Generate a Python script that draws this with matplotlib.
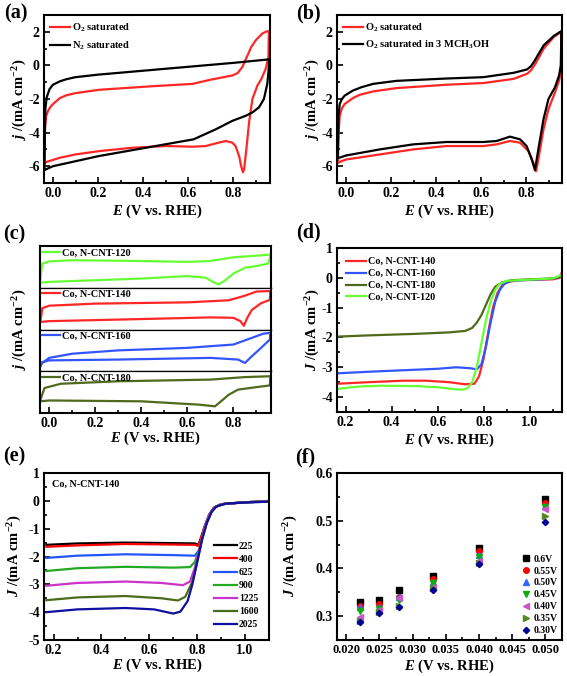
import matplotlib
matplotlib.use("Agg")
import matplotlib.pyplot as plt
from matplotlib.ticker import MultipleLocator, FormatStrFormatter

plt.rcParams['font.family'] = 'Liberation Serif'
plt.rcParams['font.weight'] = 'bold'
plt.rcParams['axes.labelweight'] = 'bold'
plt.rcParams['mathtext.fontset'] = 'custom'
plt.rcParams['mathtext.rm'] = 'Liberation Serif:bold'
plt.rcParams['mathtext.it'] = 'Liberation Serif:italic:bold'
plt.rcParams['mathtext.bf'] = 'Liberation Serif:bold'
plt.rcParams['axes.unicode_minus'] = False
plt.rcParams['axes.linewidth'] = 1.5

# ---------------- data ----------------
# (a) CV in O2 / N2
a_e_o2 = [-0.038, -0.037, -0.035, -0.03, -0.022, -0.01, 0.0, 0.03, 0.059, 0.1, 0.206, 0.428, 0.619,
          0.7, 0.796, 0.82, 0.84, 0.86, 0.88, 0.9, 0.929, 0.951, 0.958, 0.956, 0.944, 0.925, 0.907,
          0.885, 0.87, 0.858, 0.848, 0.843, 0.835, 0.826, 0.81, 0.796, 0.767, 0.723, 0.678, 0.619,
          0.501, 0.354, 0.206, 0.1, 0.03, -0.03, -0.038]
a_j_o2 = [-5.8, -4.6, -3.6, -3.0, -2.7, -2.45, -2.3, -1.95, -1.78, -1.65, -1.45, -1.25, -1.1,
          -0.85, -0.6, -0.45, -0.1, 0.5, 1.1, 1.5, 1.9, 2.04, 2.0, 0.5, -0.2, -0.8, -1.2,
          -2.0, -3.4, -5.0, -6.2, -6.36, -6.0, -5.4, -4.8, -4.6, -4.5, -4.64, -4.8, -4.84,
          -4.8, -4.9, -5.1, -5.3, -5.5, -5.75, -5.8]
a_e_n2 = [-0.038, -0.036, -0.034, -0.028, -0.015, 0.0, 0.03, 0.06, 0.1, 0.2, 0.5, 0.8, 0.96, 0.956,
          0.951, 0.936, 0.914, 0.885, 0.855, 0.796, 0.723, 0.624, 0.413, 0.202, 0.0, -0.034, -0.038]
a_j_n2 = [-6.2, -4.0, -2.6, -1.9, -1.4, -1.15, -0.95, -0.82, -0.7, -0.55, -0.2, 0.15, 0.36, -0.4,
          -1.1, -2.0, -2.5, -2.8, -3.0, -3.3, -3.8, -4.4, -4.9, -5.4, -6.0, -6.2, -6.2]

# (b) CV in O2 with / without methanol
b_e_o2 = [-0.036, -0.035, -0.033, -0.028, -0.018, -0.006, 0.03, 0.061, 0.12, 0.224, 0.447, 0.61,
          0.744, 0.803, 0.82, 0.84, 0.877, 0.922, 0.955, 0.953, 0.945, 0.927, 0.898, 0.876, 0.853,
          0.843, 0.831, 0.809, 0.772, 0.727, 0.668, 0.609, 0.446, 0.298, 0.15, 0.001, -0.031, -0.036]
b_j_o2 = [-5.8, -4.8, -4.0, -3.0, -2.55, -2.3, -1.95, -1.75, -1.55, -1.35, -1.15, -1.05,
          -0.8, -0.5, -0.3, 0.1, 1.0, 1.7, 2.0, -0.4, -0.9, -1.6, -2.6, -3.8, -5.6,
          -6.3, -5.8, -5.1, -4.6, -4.5, -4.7, -4.8, -4.8, -5.0, -5.3, -5.6, -5.76, -5.8]
b_e_meoh = [-0.036, -0.035, -0.033, -0.028, -0.018, -0.006, 0.03, 0.068, 0.12, 0.224, 0.447, 0.61,
            0.744, 0.803, 0.82, 0.833, 0.877, 0.922, 0.955, 0.953, 0.945, 0.927, 0.898, 0.876, 0.853,
            0.838, 0.824, 0.801, 0.772, 0.727, 0.668, 0.609, 0.446, 0.298, 0.15, 0.001, -0.031, -0.036]
b_j_meoh = [-5.5, -4.5, -3.0, -2.3, -2.0, -1.8, -1.5, -1.3, -1.1, -0.92, -0.78, -0.7,
            -0.44, -0.24, -0.05, 0.2, 1.2, 1.76, 2.04, 0.0, -0.6, -1.3, -2.0, -3.2, -5.0,
            -6.24, -5.6, -4.8, -4.4, -4.24, -4.5, -4.56, -4.56, -4.7, -5.0, -5.36, -5.5, -5.5]

# (c) stacked CVs, arbitrary offset units (0 = bottom of strip, 1 = top)
c_labels = ['Co, N-CNT-120', 'Co, N-CNT-140', 'Co, N-CNT-160', 'Co, N-CNT-180']
c_e_120 = [-0.04, -0.035, -0.03, 0.0, 0.1, 0.4, 0.6, 0.7, 0.8, 0.88, 0.95, 0.96, 0.958, 0.95, 0.9,
           0.85, 0.8, 0.76, 0.735, 0.71, 0.68, 0.6, 0.4, 0.2, 0.0, -0.04, -0.04]
c_j_120 = [0.12, 0.38, 0.58, 0.63, 0.66, 0.64, 0.62, 0.64, 0.73, 0.76, 0.79, 0.8, 0.70, 0.58, 0.52,
           0.48, 0.34, 0.16, 0.08, 0.14, 0.24, 0.28, 0.22, 0.18, 0.14, 0.12, 0.12]
c_e_140 = [-0.04, -0.035, -0.03, 0.0, 0.2, 0.6, 0.78, 0.85, 0.9, 0.96, 0.958, 0.92, 0.88, 0.86,
           0.845, 0.83, 0.8, 0.7, 0.4, 0.0, -0.04, -0.04]
c_j_140 = [0.18, 0.31, 0.51, 0.57, 0.62, 0.65, 0.70, 0.81, 0.91, 0.92, 0.71, 0.63, 0.47, 0.28,
           0.09, 0.2, 0.28, 0.29, 0.25, 0.2, 0.18, 0.18]
c_e_160 = [-0.04, -0.03, 0.0, 0.1, 0.3, 0.6, 0.8, 0.88, 0.93, 0.96, 0.958, 0.92, 0.88, 0.85, 0.82,
           0.7, 0.3, 0.0, -0.04, -0.04]
c_j_160 = [0.1, 0.2, 0.32, 0.42, 0.5, 0.56, 0.64, 0.8, 0.9, 0.92, 0.76, 0.56, 0.36, 0.2, 0.28,
           0.32, 0.28, 0.26, 0.2, 0.1]
c_e_180 = [-0.04, -0.03, -0.02, 0.05, 0.3, 0.7, 0.85, 0.96, 0.958, 0.9, 0.82, 0.78, 0.72, 0.65,
           0.4, 0.0, -0.04, -0.04]
c_j_180 = [0.28, 0.45, 0.6, 0.7, 0.76, 0.8, 0.86, 0.88, 0.66, 0.62, 0.56, 0.44, 0.16, 0.2,
           0.28, 0.3, 0.28, 0.28]

# (d) LSV of the four samples
d_e_140 = [0.17, 0.3, 0.45, 0.55, 0.65, 0.72, 0.76, 0.78, 0.8, 0.82, 0.84, 0.86, 0.88, 0.9, 0.95,
           1.0, 1.1, 1.13, 1.14]
d_j_140 = [-3.55, -3.5, -3.45, -3.45, -3.5, -3.57, -3.55, -3.3, -2.7, -1.8, -1.0, -0.5, -0.25,
           -0.15, -0.08, -0.07, -0.05, 0.0, 0.2]
d_e_160 = [0.17, 0.3, 0.45, 0.6, 0.68, 0.74, 0.77, 0.79, 0.81, 0.83, 0.85, 0.87, 0.89, 0.92, 1.0,
           1.1, 1.14]
d_j_160 = [-3.2, -3.15, -3.1, -3.05, -3.0, -3.03, -3.07, -2.9, -2.3, -1.5, -0.8, -0.4, -0.2,
           -0.1, -0.07, -0.03, 0.05]
d_e_180 = [0.17, 0.3, 0.5, 0.65, 0.72, 0.75, 0.77, 0.79, 0.81, 0.83, 0.85, 0.88, 0.92, 1.0, 1.1,
           1.14]
d_j_180 = [-1.97, -1.93, -1.88, -1.83, -1.78, -1.68, -1.5, -1.25, -0.9, -0.55, -0.3, -0.15, -0.08,
           -0.05, -0.02, 0.05]
d_e_120 = [0.17, 0.25, 0.35, 0.5, 0.6, 0.68, 0.71, 0.73, 0.75, 0.77, 0.79, 0.81, 0.83, 0.85, 0.87,
           0.9, 1.0, 1.1, 1.14]
d_j_120 = [-3.72, -3.65, -3.62, -3.63, -3.67, -3.74, -3.75, -3.7, -3.5, -3.0, -2.2, -1.4, -0.8,
           -0.4, -0.2, -0.1, -0.06, -0.02, 0.1]

# (e) LSV of Co, N-CNT-140 at different rotation rates (rpm)
e_rpm = ['225', '400', '625', '900', '1225', '1600', '2025']
e_e_225 = [0.17, 0.3, 0.5, 0.7, 0.79, 0.805, 0.815, 0.83, 0.85, 0.87, 0.9, 1.0, 1.1]
e_j_225 = [-1.58, -1.53, -1.5, -1.52, -1.53, -1.58, -1.35, -0.95, -0.5, -0.25, -0.12, -0.05, -0.02]
e_e_400 = [0.17, 0.3, 0.5, 0.7, 0.79, 0.805, 0.815, 0.83, 0.85, 0.87, 0.9, 1.0, 1.1]
e_j_400 = [-1.65, -1.6, -1.55, -1.57, -1.58, -1.62, -1.35, -0.95, -0.5, -0.25, -0.12, -0.05, 0.0]
e_e_625 = [0.17, 0.3, 0.5, 0.7, 0.79, 0.81, 0.83, 0.85, 0.87, 0.9, 1.0, 1.1]
e_j_625 = [-2.05, -1.97, -1.92, -1.95, -1.97, -1.75, -1.0, -0.5, -0.25, -0.12, -0.05, -0.02]
e_e_900 = [0.17, 0.3, 0.5, 0.7, 0.77, 0.79, 0.81, 0.83, 0.85, 0.87, 0.9, 1.0, 1.1]
e_j_900 = [-2.52, -2.42, -2.37, -2.4, -2.38, -2.2, -1.7, -1.0, -0.5, -0.25, -0.12, -0.05, -0.02]
e_e_1225 = [0.17, 0.3, 0.5, 0.65, 0.74, 0.77, 0.79, 0.81, 0.83, 0.85, 0.87, 0.9, 1.0, 1.1]
e_j_1225 = [-3.05, -2.95, -2.9, -2.95, -3.03, -2.9, -2.4, -1.7, -1.0, -0.5, -0.25, -0.12, -0.05, -0.02]
e_e_1600 = [0.17, 0.3, 0.5, 0.65, 0.72, 0.75, 0.78, 0.8, 0.82, 0.84, 0.86, 0.88, 0.92, 1.0, 1.1]
e_j_1600 = [-3.57, -3.47, -3.42, -3.5, -3.58, -3.45, -2.9, -2.2, -1.4, -0.8, -0.4, -0.2, -0.1,
            -0.05, -0.03]
e_e_2025 = [0.17, 0.3, 0.5, 0.62, 0.7, 0.73, 0.76, 0.78, 0.8, 0.82, 0.84, 0.86, 0.88, 0.92, 1.0, 1.1]
e_j_2025 = [-4.0, -3.9, -3.85, -3.9, -4.05, -3.98, -3.6, -3.0, -2.2, -1.4, -0.8, -0.4, -0.2, -0.1,
            -0.06, -0.03]

# (f) current vs. x at different potentials
f_x = [0.022, 0.025, 0.028, 0.033, 0.040, 0.050]
f_labels = ['0.6V', '0.55V', '0.50V', '0.45V', '0.40V', '0.35V', '0.30V']
f_060 = [0.329, 0.333, 0.354, 0.384, 0.442, 0.546]
f_055 = [0.322, 0.326, 0.341, 0.378, 0.436, 0.538]
f_050 = [0.320, 0.320, 0.340, 0.372, 0.428, 0.530]
f_045 = [0.310, 0.315, 0.333, 0.370, 0.425, 0.528]
f_040 = [0.298, 0.312, 0.338, 0.362, 0.415, 0.525]
f_035 = [0.290, 0.308, 0.322, 0.358, 0.412, 0.510]
f_030 = [0.287, 0.306, 0.320, 0.355, 0.409, 0.497]

# ---------------- figure ----------------
W, H = 567, 676
fig = plt.figure(figsize=(W / 100, H / 100), dpi=100)


def box(l, t, r, b):
    return [l / W, 1 - b / H, (r - l) / W, (b - t) / H]


def ftext(x, y, s, **kw):
    fig.text(x / W, 1 - y / H, s, ha='center', va='center', **kw)


def style(ax, xmaj, yticks=None, ymin=None):
    ax.tick_params(which='both', direction='in', top=False, right=False,
                   labelsize=10, width=1.2, pad=3)
    ax.tick_params(which='major', length=4)
    ax.tick_params(which='minor', length=2)
    ax.xaxis.set_major_locator(MultipleLocator(xmaj))
    ax.xaxis.set_minor_locator(MultipleLocator(xmaj / 2))
    if yticks is not None:
        ax.set_yticks(yticks)
        ax.yaxis.set_minor_locator(MultipleLocator(ymin))


XLAB = r'$E$ (V vs. RHE)'
lw = 1.6
RED = '#ff2626'
BLUE = '#3355ff'
OLIVE = '#4f6a1c'
LIME = '#66ff33'

# (a)
ax = fig.add_axes(box(44, 15, 270, 183))
ax.plot(a_e_o2, a_j_o2, color=RED, lw=lw, label=r'O$_2$ saturated')
ax.plot(a_e_n2, a_j_n2, color='black', lw=lw, label=r'N$_2$ saturated')
ax.set_xlim(-0.04, 0.963)
ax.set_ylim(-7, 3)
style(ax, 0.2, [-6, -4, -2, 0, 2], 1)
ax.xaxis.set_major_formatter(FormatStrFormatter('%.1f'))
ax.legend(loc='upper left', frameon=False, fontsize=7.5, handlelength=1.9,
          handletextpad=0.15, labelspacing=0.55, borderaxespad=0.3, borderpad=0.3)
ftext(157, 211, XLAB, fontsize=10.5)
ftext(20, 99, r'$j$ /(mA cm$^{-2}$)', fontsize=10.5, rotation=90)
ftext(16, 13, '(a)', fontsize=14.5)

# (b)
ax = fig.add_axes(box(337, 15, 562, 183))
ax.plot(b_e_o2, b_j_o2, color=RED, lw=lw, label=r'O$_2$ saturated')
ax.plot(b_e_meoh, b_j_meoh, color='black', lw=lw, label=r'O$_2$ saturated in 3 MCH$_3$OH')
ax.set_xlim(-0.04, 0.958)
ax.set_ylim(-7, 3)
style(ax, 0.2, [-6, -4, -2, 0, 2], 1)
ax.xaxis.set_major_formatter(FormatStrFormatter('%.1f'))
ax.legend(loc='upper left', frameon=False, fontsize=7.5, handlelength=1.9,
          handletextpad=0.15, labelspacing=0.45, borderaxespad=0.3, borderpad=0.3)
ftext(449, 211, XLAB, fontsize=10.5)
ftext(313, 99, r'$j$ /(mA cm$^{-2}$)', fontsize=10.5, rotation=90)
ftext(308, 13, '(b)', fontsize=14.5)

# (c) four stacked strips
c_curves = [(c_e_120, c_j_120, LIME), (c_e_140, c_j_140, RED),
            (c_e_160, c_j_160, BLUE), (c_e_180, c_j_180, OLIVE)]
top, bot = 246, 413
step = (bot - top) / 4
for i, (ee, jj, col) in enumerate(c_curves):
    ax = fig.add_axes(box(40, top + i * step, 271, top + (i + 1) * step))
    ax.plot(ee, jj, color=col, lw=lw, label=c_labels[i])
    ax.set_xlim(-0.04, 0.963)
    ax.set_ylim(0, 1)
    style(ax, 0.2)
    ax.set_yticks([])
    for s in ['top', 'bottom']:
        ax.spines[s].set_linewidth(0.9)
    if i == 0:
        ax.spines['top'].set_linewidth(1.5)
    if i == 3:
        ax.spines['bottom'].set_linewidth(1.5)
        ax.xaxis.set_major_formatter(FormatStrFormatter('%.1f'))
    else:
        ax.tick_params(which='both', bottom=False, labelbottom=False)
    ax.legend(loc='upper left', frameon=False, fontsize=7.5, handlelength=1.7,
              handletextpad=0.2, borderaxespad=0.05, borderpad=0.15)
ftext(155, 438, XLAB, fontsize=10.5)
ftext(20, 329, r'$j$ /(mA cm$^{-2}$)', fontsize=10.5, rotation=90)
ftext(14, 234, '(c)', fontsize=14.5)

# (d)
ax = fig.add_axes(box(337, 248, 562, 412))
ax.plot(d_e_140, d_j_140, color=RED, lw=lw, label='Co, N-CNT-140')
ax.plot(d_e_160, d_j_160, color=BLUE, lw=lw, label='Co, N-CNT-160')
ax.plot(d_e_180, d_j_180, color=OLIVE, lw=lw, label='Co, N-CNT-180')
ax.plot(d_e_120, d_j_120, color=LIME, lw=lw, label='Co, N-CNT-120')
ax.set_xlim(0.163, 1.14)
ax.set_ylim(-4.5, 1.001)
style(ax, 0.2, [-4, -3, -2, -1, 0, 1], 0.5)
ax.xaxis.set_major_formatter(FormatStrFormatter('%.1f'))
ax.yaxis.set_major_formatter(FormatStrFormatter('%g'))
ax.legend(loc='upper left', frameon=False, fontsize=7.3, handlelength=2.0,
          handletextpad=0.15, labelspacing=0.28, borderaxespad=0.5, borderpad=0.4)
ftext(449, 440, XLAB, fontsize=10.5)
ftext(313, 330, r'$J$ /(mA cm$^{-2}$)', fontsize=10.5, rotation=90)
ftext(308, 232, '(d)', fontsize=14.5)

# (e)
ax = fig.add_axes(box(44, 473, 269, 640))
e_curves = [(e_e_225, e_j_225, 'black'), (e_e_400, e_j_400, '#ff0000'),
            (e_e_625, e_j_625, '#2255ff'), (e_e_900, e_j_900, '#22aa22'),
            (e_e_1225, e_j_1225, '#cc33cc'), (e_e_1600, e_j_1600, '#4b6b1a'),
            (e_e_2025, e_j_2025, '#1010a0')]
for (ee, jj, col), lab in zip(e_curves, e_rpm):
    ax.plot(ee, jj, color=col, lw=lw, label=lab)
ax.set_xlim(0.16, 1.1)
ax.set_ylim(-5, 1.001)
style(ax, 0.2, [-5, -4, -3, -2, -1, 0, 1], 0.5)
ax.xaxis.set_major_formatter(FormatStrFormatter('%.1f'))
ax.yaxis.set_major_formatter(FormatStrFormatter('%g'))
ax.legend(loc='lower right', frameon=False, fontsize=7, handlelength=2.4,
          handletextpad=0.2, labelspacing=0.42, borderaxespad=0.7, borderpad=0.4)
ax.text(0.035, 0.93, 'Co, N-CNT-140', transform=ax.transAxes, fontsize=7.3,
        ha='left', va='center')
ftext(157, 665, XLAB, fontsize=10.5)
ftext(15, 556, r'$J$ /(mA cm$^{-2}$)', fontsize=10.5, rotation=90)
ftext(14, 456, '(e)', fontsize=14.5)

# (f)
ax = fig.add_axes(box(337, 473, 562, 640))
f_series = [(f_060, 's', 'black'), (f_055, 'o', '#ff0000'), (f_050, '^', '#3366ff'),
            (f_045, 'v', '#11aa11'), (f_040, '<', '#cc55cc'), (f_035, '>', '#558822'),
            (f_030, 'D', '#000099')]
for (yy, mk, col), lab in zip(f_series, f_labels):
    ms = 3.2 if mk == 'D' else 4
    ax.plot(f_x, yy, ls='none', marker=mk, color=col, ms=ms, label=lab)
ax.set_xlim(0.0186, 0.0525)
ax.set_ylim(0.25, 0.6)
style(ax, 0.005, [0.3, 0.4, 0.5, 0.6], 0.05)
ax.tick_params(axis='x', labelsize=9)
ax.xaxis.set_major_formatter(FormatStrFormatter('%.3f'))
ax.yaxis.set_major_formatter(FormatStrFormatter('%.1f'))
ax.legend(loc='lower right', frameon=False, fontsize=7, handlelength=0.8,
          handletextpad=0.3, labelspacing=0.3, borderaxespad=0.2, borderpad=0.3)
ftext(449, 666, XLAB, fontsize=10.5)
ftext(291, 556, r'$J$ /(mA cm$^{-2}$)', fontsize=10.5, rotation=90)
ftext(305, 457, '(f)', fontsize=14.5)

fig.savefig('out.png', dpi=100)
